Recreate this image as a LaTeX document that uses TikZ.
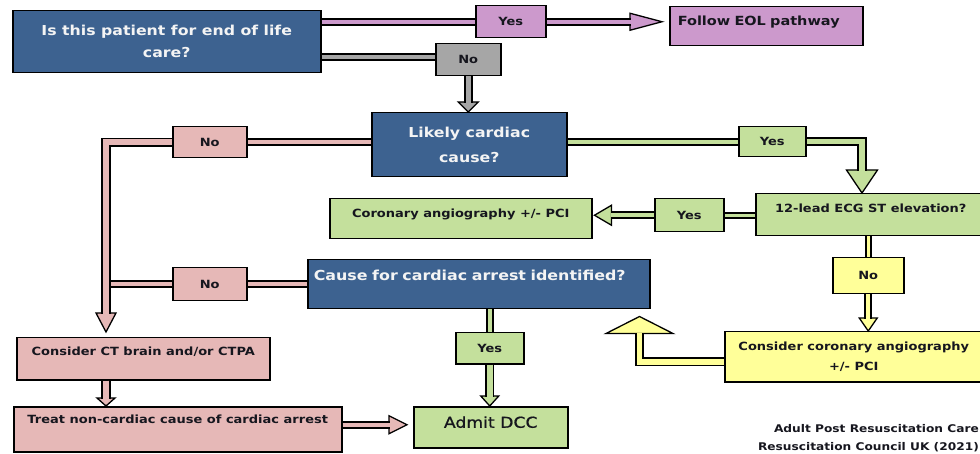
\documentclass[tikz,border=0pt]{standalone}
\usepackage{fontspec}
\setmainfont{DejaVu Sans}[FakeStretch=1.15]
\newfontfamily\admitfont{DejaVu Sans}[FakeStretch=1.15, FakeBold=0.9]
\usetikzlibrary{calc}

\definecolor{qblue}{HTML}{3D6290}
\definecolor{eolpurple}{HTML}{CC99CC}
\definecolor{nogrey}{HTML}{A6A6A6}
\definecolor{rosepink}{HTML}{E6B8B7}
\definecolor{leafgreen}{HTML}{C4E09C}
\definecolor{paleyellow}{HTML}{FFFF99}
\definecolor{inkdark}{HTML}{16161E}
\definecolor{softwhite}{HTML}{F4F4F4}

% Filled, outlined arrow head: #1 fill, #2 point the shaft comes from,
% #3 tip, #4 head length, #5 half of the head width
\newcommand\blockhead[5]{%
  \coordinate (hdT) at (#3);
  \coordinate (hdB) at ($(#3)!#4!(#2)$);
  \filldraw[fill=#1, draw=black, line width=1.3pt, line join=miter]
    ($(hdB)!#5!90:(hdT)$) -- (hdT) -- ($(hdB)!#5!-90:(hdT)$) -- cycle;
}

\tikzset{
  box/.style={draw=black, line width=1.5pt, anchor=north west, inner sep=0pt,
    text=inkdark, align=center, font=\fontsize{11.3}{14}\selectfont\bfseries},
  question/.style={box, fill=qblue, text=softwhite},
  tag/.style={box, minimum width=#1},
  band/.style={draw=black, line width=1.9pt, double=#1, double distance=4pt,
    line join=miter, line cap=butt},
  wideband/.style={band=#1, double distance=5.5pt},
  footnote/.style={inner sep=0pt, text=inkdark, font=\fontsize{10.6}{12}\selectfont\bfseries},
}

\begin{document}
\begin{tikzpicture}[x=1pt, y=-1pt]
\useasboundingbox (0,0) rectangle (980,454);

% ---------- boxes ----------
\node[question, minimum width=308pt, minimum height=62pt,
      font=\fontsize{13.7}{22}\selectfont\bfseries] (q1) at (12,10)
  {Is this patient for end of life\\care?};
\node[tag=70pt, minimum height=32pt, fill=eolpurple] (yesA) at (475,5) {Yes};
\node[box, fill=eolpurple, text width=177pt, inner xsep=8pt, align=left,
      text height=19pt, text depth=20pt,
      font=\fontsize{12.6}{15}\selectfont\bfseries] (eol) at (669,6) {Follow EOL pathway};
\node[tag=65pt, minimum height=32pt, fill=nogrey] (noA) at (435,43) {No};

\node[question, minimum width=195pt, minimum height=64pt,
      font=\fontsize{13.7}{25}\selectfont\bfseries] (likely) at (371,112)
  {Likely cardiac\\cause?};
\node[tag=74pt, minimum height=31pt, fill=rosepink] (noB) at (172,126) {No};
\node[tag=67pt, minimum height=30pt, fill=leafgreen] (yesB) at (738,126) {Yes};

\node[box, fill=leafgreen, minimum width=262pt, text height=19pt, text depth=21pt]
  (coronary) at (329,198) {Coronary angiography +/- PCI};
\node[tag=69pt, minimum height=33pt, fill=leafgreen] (yesC) at (654,198) {Yes};
\node[box, fill=leafgreen, minimum width=230pt, text height=19pt, text depth=23pt]
  (ecg) at (755,193) {12-lead ECG ST elevation?};

\node[question, text width=330pt, inner xsep=6pt, align=left,
      text height=21pt, text depth=28pt,
      font=\fontsize{13.8}{16}\selectfont\bfseries] (cause) at (307,259)
  {Cause for cardiac arrest identified?};
\node[tag=74pt, minimum height=33pt, fill=rosepink] (noC) at (172,267) {No};
\node[tag=71pt, minimum height=36pt, fill=paleyellow] (noD) at (832,257) {No};

\node[tag=68pt, minimum height=31pt, fill=leafgreen] (yesD) at (455,332) {Yes};
\node[box, fill=paleyellow, minimum width=258pt, minimum height=50pt,
      font=\fontsize{11.3}{20}\selectfont\bfseries] (consider) at (724,331)
  {Consider coronary angiography\\+/- PCI};

\node[box, fill=rosepink, minimum width=253pt, text height=18pt, text depth=24pt]
  (ct) at (16,337) {Consider CT brain and/or CTPA};
\node[box, fill=rosepink, minimum width=328pt, text height=17pt, text depth=28pt]
  (treat) at (13,406) {Treat non-cardiac cause of cardiac arrest};
\node[box, fill=leafgreen, minimum width=154pt, text height=21pt, text depth=20pt,
      font=\fontsize{15}{18}\admitfont] (admit) at (413,406) {Admit DCC};

\node[footnote, anchor=base east] (foot1) at (979,432) {Adult Post Resuscitation Care};
\node[footnote, anchor=base east] (foot2) at (979,450) {Resuscitation Council UK (2021)};

% ---------- connectors ----------
% end of life question
\draw[band=eolpurple] (q1.east |- yesA.west) -- (yesA.west);
\coordinate (eolTip) at ($(eol.west |- yesA.east)+(-7,0)$);
\blockhead{eolpurple}{yesA.east}{eolTip}{32pt}{8.5pt}
\draw[band=eolpurple, shorten >=31.3pt] (yesA.east) -- (eolTip);

\coordinate (noAin) at ($(noA.west)+(0,-3)$);
\draw[band=nogrey] (q1.east |- noAin) -- (noAin);
\blockhead{nogrey}{noA.south}{noA.south |- likely.north}{10pt}{10pt}
\draw[wideband=nogrey, shorten >=9.3pt] (noA.south) -- (noA.south |- likely.north);

% likely cardiac cause: no branch
\draw[band=rosepink] (likely.west |- noB.east) -- (noB.east);
\coordinate (spineTip) at (106,332);
\blockhead{rosepink}{spineTip |- noB.west}{spineTip}{19pt}{10pt}
\draw[wideband=rosepink, shorten >=18.3pt] (noB.west) -| (spineTip);

% cause identified: no branch joins the same line
\draw[band=rosepink] (cause.west |- noC.east) -- (noC.east);
\draw[band=rosepink] (noC.west) -- ($(noC.west -| spineTip)+(4.5,0)$);

\blockhead{rosepink}{ct.south -| spineTip}{treat.north -| spineTip}{8pt}{9pt}
\draw[wideband=rosepink, shorten >=7.3pt] (ct.south -| spineTip) -- (treat.north -| spineTip);

\coordinate (admitIn) at ($(admit.west)+(-6,-2.5)$);
\blockhead{rosepink}{treat.east |- admitIn}{admitIn}{18pt}{9pt}
\draw[band=rosepink, shorten >=17.3pt] (treat.east |- admitIn) -- (admitIn);

% cause identified: yes branch
\draw[band=leafgreen] (yesD.north |- cause.south) -- (yesD.north);
\blockhead{leafgreen}{yesD.south}{yesD.south |- admit.north}{10pt}{9pt}
\draw[wideband=leafgreen, shorten >=9.3pt] (yesD.south) -- (yesD.south |- admit.north);

% likely cardiac cause: yes branch
\draw[band=leafgreen] (likely.east |- yesB.west) -- (yesB.west);
\coordinate (ecgTip) at ($(ecg.north west)+(107,0)$);
\blockhead{leafgreen}{yesB.east -| ecgTip}{ecgTip}{23pt}{15.5pt}
\draw[wideband=leafgreen, shorten >=22.3pt] (yesB.east) -| (ecgTip);

\draw[band=leafgreen, double distance=3pt] (ecg.west |- yesC.east) -- (yesC.east);
\coordinate (coronaryTip) at ($(coronary.east |- yesC.west)+(2,0)$);
\blockhead{leafgreen}{yesC.west}{coronaryTip}{17pt}{10pt}
\draw[band=leafgreen, shorten >=16.3pt] (yesC.west) -- (coronaryTip);

% ST elevation: no branch
\draw[band=paleyellow, double distance=3.5pt] (noD.north |- ecg.south) -- (noD.north);
\blockhead{paleyellow}{noD.south}{noD.south |- consider.north}{13pt}{9pt}
\draw[band=paleyellow, shorten >=12.3pt] (noD.south) -- (noD.south |- consider.north);

\coordinate (upRow) at ($(consider.west)+(0,5)$);
\coordinate (upTip) at ($(cause.south east)+(-11,7)$);
\blockhead{paleyellow}{upTip |- upRow}{upTip}{17pt}{33.5pt}
\draw[wideband=paleyellow, shorten >=16.3pt] (upRow) -| (upTip);
\end{tikzpicture}
\end{document}
